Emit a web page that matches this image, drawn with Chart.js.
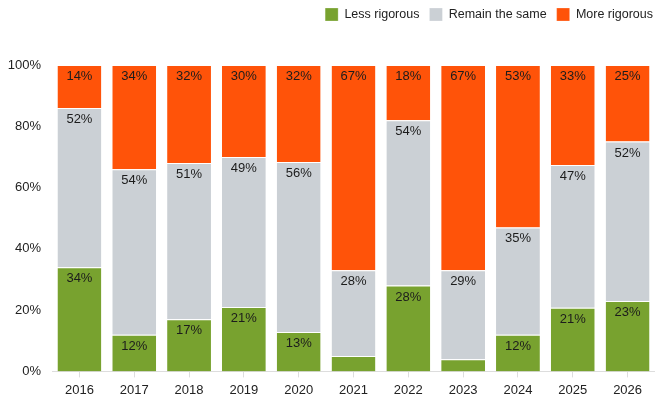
<!DOCTYPE html>
<html>
<head>
<meta charset="utf-8">
<script src="https://cdn.jsdelivr.net/npm/chart.js@4.4.1/dist/chart.umd.min.js"></script>
<style>
  html, body { margin: 0; padding: 0; background: #fff; }
  canvas { display: block; }
</style>
</head>
<body>
<canvas id="chart" width="655" height="402"></canvas>
<script>
// values in percent
var years = ['2016', '2017', '2018', '2019', '2020', '2021', '2022', '2023', '2024', '2025', '2026'];
var lessRigorous = [34, 12, 17, 21, 13, 5, 28, 4, 12, 21, 23];
var remainSame   = [52, 54, 51, 49, 56, 28, 54, 29, 35, 47, 52];
var moreRigorous = [14, 34, 32, 30, 32, 67, 18, 67, 53, 33, 25];
var yTicks = [0, 20, 40, 60, 80, 100];

var seriesColors = ['#78A22F', '#CBD0D5', '#FF5309'];

// scale each year to 100% (some rows add up to 101)
function share(arr, i) {
    var total = lessRigorous[i] + remainSame[i] + moreRigorous[i];
    return arr[i] / total * 100;
}

function makeDataset(label, arr, color) {
    return {
        label: label,
        data: arr.map(function(v, i) { return share(arr, i); }),
        raw: arr,
        backgroundColor: color,
        borderColor: '#ffffff',
        borderWidth: { top: 1 },
        borderSkipped: false,
        barPercentage: 0.8,
        categoryPercentage: 1.0
    };
}

var font = "'Liberation Sans', Arial, Helvetica, sans-serif";

var segmentLabels = {
    id: 'segmentLabels',
    afterDatasetsDraw: function(chart) {
        var ctx = chart.ctx;
        ctx.save();
        ctx.font = '13px ' + font;
        ctx.fillStyle = '#1c1c1c';
        ctx.textAlign = 'center';
        ctx.textBaseline = 'middle';
        chart.data.datasets.forEach(function(ds, di) {
            var meta = chart.getDatasetMeta(di);
            meta.data.forEach(function(bar, i) {
                var v = ds.raw[i];
                if (v < 10) return;
                ctx.fillText(v + '%', bar.x, bar.y + 11.5);
            });
        });
        ctx.restore();
    }
};

// reserve room under the legend and nudge it into place
var legendSpace = {
    id: 'legendSpace',
    afterInit: function(chart) {
        var origFit = chart.legend.fit;
        chart.legend.fit = function() {
            origFit.call(this);
            this.height = 65;
        };
    },
    afterLayout: function(chart) {
        var lg = chart.legend;
        lg.top -= 2;
        lg.bottom -= 2;
        lg.left += 8;
        lg.right += 8;
    }
};

new Chart(document.getElementById('chart'), {
    type: 'bar',
    data: {
        labels: years,
        datasets: [
            makeDataset('Less rigorous', lessRigorous, seriesColors[0]),
            makeDataset('Remain the same', remainSame, seriesColors[1]),
            makeDataset('More rigorous', moreRigorous, seriesColors[2])
        ]
    },
    options: {
        responsive: false,
        animation: false,
        layout: {
            padding: { left: 0, right: 0, top: 0, bottom: -1 }
        },
        plugins: {
            legend: {
                display: true,
                position: 'top',
                align: 'end',
                labels: {
                    boxWidth: 13,
                    boxHeight: 13,
                    padding: 10,
                    color: '#222',
                    font: { family: font, size: 12.5 }
                }
            },
            tooltip: { enabled: false }
        },
        scales: {
            x: {
                stacked: true,
                grid: {
                    display: true,
                    drawOnChartArea: false,
                    drawTicks: true,
                    tickLength: 6,
                    offset: false,
                    color: '#dddddd'
                },
                border: { display: true, color: '#dddddd' },
                ticks: {
                    color: '#222',
                    padding: 5,
                    font: { family: font, size: 13 }
                }
            },
            y: {
                stacked: true,
                min: 0,
                max: 100,
                afterBuildTicks: function(axis) {
                    axis.ticks = yTicks.map(function(v) { return { value: v }; });
                },
                afterFit: function(axis) {
                    axis.width = 52;
                },
                grid: { display: false, drawTicks: false },
                border: { display: false },
                ticks: {
                    color: '#222',
                    padding: 11,
                    font: { family: font, size: 13 },
                    callback: function(v) { return v + '%'; }
                }
            }
        }
    },
    plugins: [segmentLabels, legendSpace]
});
</script>
</body>
</html>
